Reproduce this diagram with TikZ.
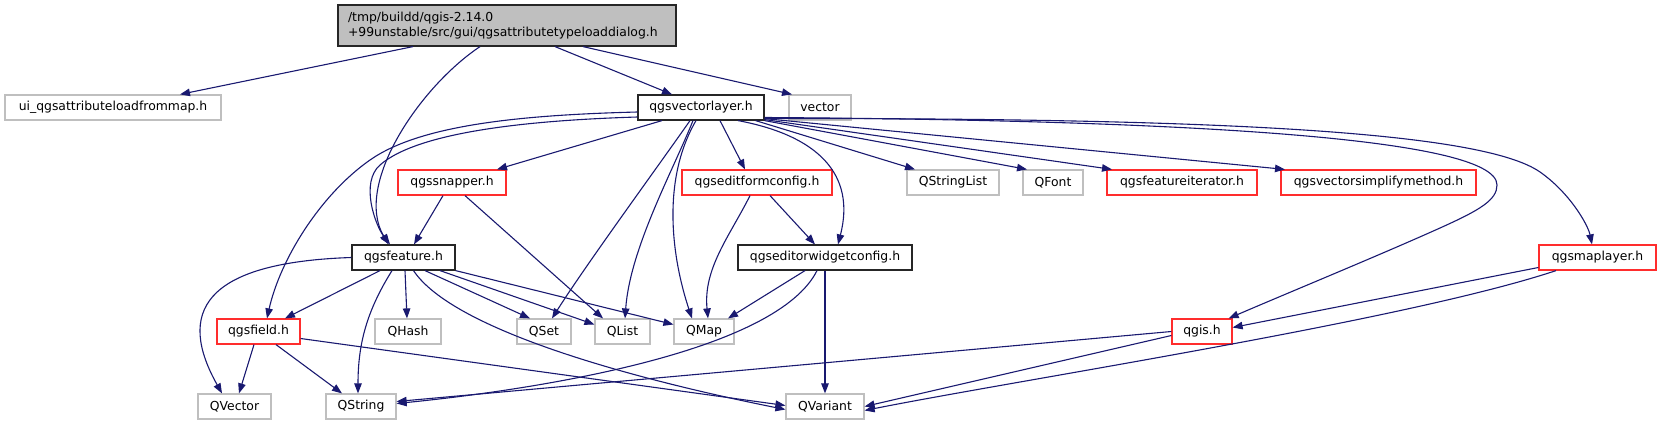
\documentclass[tikz,border=0pt]{standalone}
\usepackage{fontspec}
\setmainfont{DejaVu Sans}
\usetikzlibrary{arrows.meta}
\definecolor{edgeblue}{RGB}{25,25,112}
\definecolor{nodegray}{RGB}{191,191,191}
\definecolor{nodered}{RGB}{255,45,45}
\begin{document}
\begin{tikzpicture}[x=1pt,y=-1pt,
  box/.style={rectangle, draw, inner sep=0pt, minimum height=25pt, line width=1.2pt,
    font=\fontsize{12.4}{14.5}\selectfont, fill=white},
  blk/.style={box, draw=black!85},
  gry/.style={box, draw=nodegray},
  rdb/.style={box, draw=nodered},
  dep/.style={draw=edgeblue, line width=1.1pt, -{Triangle[length=10pt,width=7.5pt]}},
]
\useasboundingbox (0,0) rectangle (1661,425);

% row 1
\node[blk, fill=nodegray, minimum width=338pt, minimum height=41pt, text width=318pt,
  align=left, inner xsep=10pt] (root) at (507,25.5)
  {/tmp/buildd/qgis-2.14.0\\+99unstable/src/gui/qgsattributetypeloaddialog.h};
% row 2
\node[gry, minimum width=216pt] (ui) at (113,107.5) {ui\_qgsattributeloadfrommap.h};
\node[blk, minimum width=126pt] (vl) at (701,107.5) {qgsvectorlayer.h};
\node[gry, minimum width=62pt] (vector) at (820,107.5) {vector};
% row 3
\node[rdb, minimum width=108pt] (snapper) at (452,182.5) {qgssnapper.h};
\node[rdb, minimum width=150pt] (editform) at (757,182.5) {qgseditformconfig.h};
\node[gry, minimum width=92pt] (qsl) at (953,182.5) {QStringList};
\node[gry, minimum width=60pt] (qfont) at (1053,182.5) {QFont};
\node[rdb, minimum width=150pt] (featiter) at (1182,182.5) {qgsfeatureiterator.h};
\node[rdb, minimum width=195pt] (vsimp) at (1378.5,182.5) {qgsvectorsimplifymethod.h};
% row 4
\node[blk, minimum width=103pt] (feature) at (403.5,257.5) {qgsfeature.h};
\node[blk, minimum width=174pt] (ewc) at (825,257.5) {qgseditorwidgetconfig.h};
\node[rdb, minimum width=117pt] (maplayer) at (1597.5,257.5) {qgsmaplayer.h};
% row 5
\node[rdb, minimum width=83pt] (field) at (258.5,331.5) {qgsfield.h};
\node[gry, minimum width=66pt] (qhash) at (408,331.5) {QHash};
\node[gry, minimum width=54pt] (qset) at (544,331.5) {QSet};
\node[gry, minimum width=55pt] (qlist) at (622.5,331.5) {QList};
\node[gry, minimum width=60pt] (qmap) at (704,331.5) {QMap};
\node[rdb, minimum width=60pt] (qgis) at (1202,331.5) {qgis.h};
% row 6
\node[gry, minimum width=73pt] (qvector) at (234.5,406.5) {QVector};
\node[gry, minimum width=70pt] (qstring) at (361,406.5) {QString};
\node[gry, minimum width=78pt] (qvariant) at (825,406.5) {QVariant};

% edges from root
\draw[dep] ([xshift=-94pt]root.south) -- ([xshift=67pt]ui.north);
\draw[dep] ([xshift=48pt]root.south) -- ([xshift=-29pt]vl.north);
\draw[dep] ([xshift=76pt]root.south) -- ([xshift=-28pt]vector.north);
\draw[dep] ([xshift=-27pt]root.south) .. controls +(-60,40) and +(-35,-60) .. ([xshift=-15pt]feature.north);

% edges from qgsvectorlayer.h
\draw[dep] ([yshift=-9.5pt]vl.west) .. controls (540,120) and (420,130) .. (380,165)
  .. controls (360,182.5) and (375,225) .. ([xshift=-13.5pt]feature.north);
\draw[dep] ([yshift=-4.5pt]vl.west) .. controls (520,115) and (420,125) .. (370,160)
  .. controls (320,195) and (280,260) .. ([xshift=8.5pt]field.north);
\draw[dep] ([xshift=-39pt]vl.south) -- ([xshift=45pt]snapper.north);
\draw[dep] ([xshift=-11pt]vl.south) .. controls +(-35,50) and +(35,-55) .. ([xshift=8pt]qset.north);
\draw[dep] ([xshift=-8pt]vl.south) .. controls +(-20,50) and +(5,-70) .. ([xshift=2.5pt]qlist.north);
\draw[dep] ([xshift=-5pt]vl.south) .. controls +(-35,60) and +(-20,-60) .. ([xshift=-12pt]qmap.north);
\draw[dep] ([xshift=19pt]vl.south) -- ([xshift=-12pt]editform.north);
\draw[dep] ([xshift=37pt]vl.south) .. controls +(80,15) and +(18,-70) .. ([xshift=13pt]ewc.north);
\draw[dep] ([xshift=-9pt]vl.south east) -- ([xshift=-38pt]qsl.north);
\draw[dep] (vl.south east) -- ([xshift=-26pt]qfont.north);
\draw[dep] ([yshift=1pt]vl.south east) -- ([xshift=-70pt]featiter.north);
\draw[dep] ([yshift=2pt]vl.south east) -- ([xshift=-93.5pt]vsimp.north);
\draw[dep] ([yshift=-10pt]vl.east) .. controls (1150,120) and (1497,135) .. (1497,185)
  .. controls (1497,200) and (1480,210) .. (1440,228)
  .. controls (1380,255) and (1290,292) .. ([xshift=-4pt]qgis.north east);
\draw[dep] ([yshift=-11pt]vl.east) .. controls (1200,118) and (1480,130) .. (1540,172)
  .. controls (1570,193) and (1588,225) .. ([xshift=-5.5pt]maplayer.north);

% edges from qgssnapper.h
\draw[dep] ([xshift=-9pt]snapper.south) -- ([xshift=10.5pt]feature.north);
\draw[dep] ([xshift=13pt]snapper.south) -- ([xshift=-19.5pt]qlist.north);

% edges from qgseditformconfig.h
\draw[dep] ([xshift=-7pt]editform.south) .. controls +(-20,40) and +(-5,-50) .. ([xshift=4pt]qmap.north);
\draw[dep] ([xshift=13pt]editform.south) -- ([xshift=-10pt]ewc.north);

% edges from qgsfeature.h
\draw[dep] (feature.west) .. controls +(-150,5) and +(-45,-80) .. ([xshift=-12.5pt]qvector.north);
\draw[dep] ([xshift=-23.5pt]feature.south) -- ([xshift=26.5pt]field.north);
\draw[dep] ([xshift=-11.5pt]feature.south) .. controls +(-25,40) and +(0,-50) .. ([xshift=-3pt]qstring.north);
\draw[dep] ([xshift=1.5pt]feature.south) -- ([xshift=-1pt]qhash.north);
\draw[dep] ([xshift=21.5pt]feature.south) -- ([xshift=-14pt]qset.north);
\draw[dep] ([xshift=36.5pt]feature.south) -- ([yshift=7pt]qlist.west);
\draw[dep] (feature.south east) -- ([yshift=7pt]qmap.west);
\draw[dep] ([xshift=10pt]feature.south) .. controls +(40,60) and +(-150,-30) .. ([yshift=-3pt]qvariant.west);

% edges from qgseditorwidgetconfig.h
\draw[dep] ([xshift=-20pt]ewc.south) -- ([xshift=24pt]qmap.north);
\draw[dep] ([xshift=-8pt]ewc.south) .. controls +(-40,80) and +(150,-15) .. ([yshift=3pt]qstring.east);
\draw[dep] (ewc.south) -- (qvariant.north);

% edges from qgsfield.h
\draw[dep] ([xshift=-4.5pt]field.south) -- ([xshift=4.5pt]qvector.north);
\draw[dep] ([xshift=17.5pt]field.south) -- ([xshift=-19pt]qstring.north);
\draw[dep] ([yshift=-7pt]field.east) -- ([yshift=1pt]qvariant.west);

% edges from qgis.h
\draw[dep] (qgis.west) -- ([yshift=5pt]qstring.east);
\draw[dep] ([yshift=-4pt]qgis.west) -- (qvariant.east);

% edges from qgsmaplayer.h
\draw[dep] ([yshift=-10pt]maplayer.west) -- ([yshift=4pt]qgis.east);
\draw[dep] ([xshift=-41.5pt]maplayer.south) .. controls +(-150,50) and +(150,-30) .. ([yshift=-4pt]qvariant.east);
\end{tikzpicture}
\end{document}
